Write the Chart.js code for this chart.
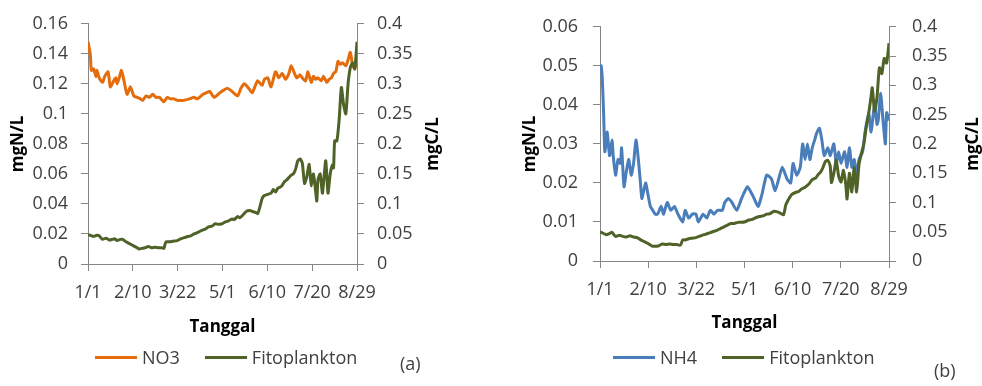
<!DOCTYPE html>
<html>
<head>
<meta charset="utf-8">
<script src="https://cdn.jsdelivr.net/npm/chart.js@4.4.0/dist/chart.umd.min.js"></script>
<style>
  body { margin: 0; width: 982px; height: 386px; overflow: hidden; background: #fff; position: relative; font-family: "Open Sans", sans-serif; }
  .panel { position: absolute; top: 0; width: 491px; height: 386px; }
  .legend { position: absolute; top: 345px; height: 24px; display: flex; align-items: center; font-size: 18px; color: #404040; white-space: nowrap; }
  .legend .item { display: flex; align-items: center; margin-right: 25px; }
  .legend .sw { display: inline-block; width: 42px; height: 3px; margin-right: 5px; }
  .tag { position: absolute; font-size: 18px; line-height: 24px; color: #404040; }
</style>
</head>
<body>
<div class="panel" style="left:0">
  <canvas id="chartA" width="491" height="386"></canvas>
  <div class="legend" id="legendA" style="left:95px"></div>
  <div class="tag" style="left:400px;top:351px">(a)</div>
</div>
<div class="panel" style="left:491px">
  <canvas id="chartB" width="491" height="386"></canvas>
  <div class="legend" id="legendB" style="left:122px"></div>
  <div class="tag" style="left:443px;top:358px">(b)</div>
</div>
<script>
'use strict';

// days since 1/1, tick labels every 40 days
const tickLabels = ['1/1', '2/10', '3/22', '5/1', '6/10', '7/20', '8/29'];

// (a) NO3, mgN/L
const no3Days = [0,2,3,5,7,8,10,13,15,18,20,23,25,26,28,30,32,35,38,41,44,47,49,52,55,58,61,64,68,71,
  74,77,80,82,86,91,95,98,103,106,109,113,118,122,125,129,134,137,140,144,147,150,152,156,158,161,164,168,171,174,
  177,180,182,185,187,190,193,195,197,200,202,204,206,209,211,214,216,218,220,222,224,226,228,231,233,235,237,239,241];
const no3Vals = [0.148,0.140,0.129,0.130,0.125,0.129,0.124,0.121,0.125,0.128,0.118,0.122,0.124,0.120,0.124,0.129,0.123,0.113,0.118,0.112,
  0.111,0.110,0.109,0.112,0.111,0.113,0.111,0.111,0.108,0.111,0.110,0.110,0.109,0.109,0.109,0.110,0.111,0.110,0.113,0.114,
  0.115,0.111,0.114,0.116,0.117,0.115,0.112,0.117,0.120,0.117,0.114,0.119,0.122,0.119,0.123,0.124,0.118,0.128,0.124,0.127,
  0.123,0.127,0.132,0.127,0.124,0.126,0.123,0.122,0.128,0.121,0.125,0.123,0.124,0.122,0.125,0.121,0.123,0.124,0.127,0.128,
  0.135,0.133,0.134,0.132,0.136,0.141,0.133,0.130,0.137];

// (a) Fitoplankton, mgC/L
const fitoADays = [0,3,5,8,10,13,16,19,22,24,26,29,31,34,36,39,42,44,46,48,51,54,57,60,63,66,68,69,70,73,
  76,80,83,85,88,92,95,99,102,105,108,111,114,117,120,123,126,129,131,134,136,139,142,145,148,150,152,154,156,158,
  161,164,166,168,170,172,174,176,178,180,182,184,186,188,190,192,193,194,196,198,199,200,202,204,205,206,208,210,211,213,
  215,217,219,220,221,223,225,227,229,231,233,235,237,239,241];
const fitoAVals = [0.049,0.047,0.046,0.048,0.047,0.041,0.043,0.040,0.041,0.042,0.039,0.041,0.041,0.037,0.035,0.032,0.029,0.027,0.025,0.026,
  0.027,0.029,0.027,0.028,0.027,0.027,0.026,0.033,0.037,0.037,0.038,0.039,0.042,0.043,0.045,0.047,0.050,0.053,0.056,0.058,
  0.062,0.063,0.067,0.066,0.067,0.070,0.072,0.075,0.074,0.079,0.077,0.082,0.088,0.089,0.087,0.086,0.084,0.095,0.109,0.114,
  0.116,0.118,0.124,0.120,0.126,0.128,0.131,0.137,0.140,0.144,0.148,0.150,0.158,0.172,0.175,0.168,0.150,0.134,0.145,0.166,
  0.150,0.130,0.150,0.120,0.105,0.140,0.150,0.118,0.135,0.172,0.118,0.150,0.165,0.160,0.205,0.205,0.240,0.294,0.265,0.250,
  0.300,0.327,0.335,0.325,0.370];

// (b) NH4, mgN/L
const nh4Days = [0,1,2,3,4,5,6,8,10,11,13,15,17,18,19,20,22,24,26,28,30,32,34,35,38,40,42,44,46,48,
  51,53,56,59,62,65,69,71,74,77,80,82,86,89,92,95,98,102,104,107,110,114,118,121,123,127,130,132,135,139,
  143,146,149,152,156,159,161,164,167,169,171,173,175,177,179,181,183,185,187,190,192,195,197,199,201,204,206,208,210,212,
  214,216,219,221,224,226,228,229,231,232,234,236,238,239,241];
const nh4Vals = [0.050,0.050,0.046,0.038,0.028,0.030,0.033,0.027,0.031,0.027,0.022,0.026,0.025,0.029,0.024,0.019,0.023,0.026,0.022,0.025,
  0.031,0.026,0.019,0.016,0.020,0.017,0.014,0.013,0.012,0.012,0.014,0.012,0.015,0.013,0.014,0.012,0.010,0.013,0.011,0.012,
  0.012,0.010,0.012,0.011,0.013,0.012,0.013,0.013,0.015,0.016,0.015,0.013,0.016,0.018,0.019,0.017,0.015,0.014,0.017,0.022,
  0.021,0.018,0.021,0.024,0.021,0.020,0.025,0.022,0.024,0.030,0.026,0.030,0.026,0.029,0.031,0.033,0.034,0.031,0.027,0.029,
  0.027,0.030,0.025,0.028,0.025,0.028,0.024,0.029,0.024,0.026,0.022,0.026,0.028,0.033,0.038,0.033,0.038,0.040,0.035,0.036,
  0.043,0.036,0.030,0.038,0.036];

// (b) Fitoplankton, mgC/L
const fitoBDays = [0,3,5,8,10,13,16,19,22,25,28,31,34,37,40,43,46,49,52,55,58,61,64,67,69,71,74,77,80,84,
  87,90,94,97,100,103,106,109,112,115,118,121,124,127,130,133,136,139,142,145,148,150,153,155,158,160,163,166,168,171,
  174,177,180,182,184,186,188,190,192,193,195,197,199,201,203,205,206,208,210,212,214,216,218,220,222,224,226,227,229,231,
  233,235,237,239,241];
const fitoBVals = [0.050,0.047,0.045,0.047,0.049,0.042,0.044,0.042,0.041,0.043,0.041,0.040,0.036,0.033,0.030,0.026,0.025,0.026,0.029,0.028,
  0.029,0.028,0.028,0.027,0.036,0.036,0.038,0.039,0.040,0.043,0.045,0.047,0.050,0.052,0.055,0.058,0.061,0.064,0.064,0.066,
  0.066,0.067,0.070,0.071,0.074,0.076,0.077,0.080,0.081,0.085,0.084,0.082,0.079,0.096,0.108,0.114,0.117,0.119,0.123,0.126,
  0.131,0.139,0.142,0.148,0.152,0.160,0.170,0.172,0.162,0.134,0.150,0.172,0.145,0.135,0.155,0.130,0.106,0.150,0.118,0.160,
  0.118,0.165,0.184,0.200,0.228,0.251,0.280,0.296,0.256,0.280,0.330,0.320,0.346,0.338,0.372];

const AXIS_GREY = '#868686';
const TEXT_GREY = '#404040';
const FONT = '"Open Sans", sans-serif';

function pairs(days, vals) {
    return days.map((d, i) => ({ x: d, y: vals[i] }));
}

function fmt(v) {
    return String(Number(v.toFixed(4)));
}

// Excel draws the secondary title reading bottom-to-top, Chart.js does the opposite
const rightTitle = {
    id: 'rightTitle',
    afterDraw(chart, args, opts) {
        const s = chart.scales.y1;
        const { ctx } = chart;
        ctx.save();
        ctx.translate(opts.x, (s.top + s.bottom) / 2);
        ctx.rotate(-Math.PI / 2);
        ctx.font = 'bold 17px ' + FONT;
        ctx.fillStyle = '#000';
        ctx.textAlign = 'center';
        ctx.textBaseline = 'middle';
        ctx.fillText(opts.text, 0, 0);
        ctx.restore();
    }
};

function makeChart(id, datasets, o) {
    const fixW = w => scale => { scale.width = w; };
    return new Chart(document.getElementById(id), {
        type: 'line',
        data: { datasets },
        plugins: [rightTitle],
        options: {
            responsive: false,
            animation: false,
            layout: { padding: { left: 0, right: 0, top: 23, bottom: o.padBottom } },
            elements: { point: { radius: 0 }, line: { borderWidth: 3, tension: 0.2 } },
            plugins: {
                legend: { display: false },
                tooltip: { enabled: false },
                rightTitle: { text: 'mgC/L', x: o.rightTitleX }
            },
            scales: {
                x: {
                    type: 'linear',
                    min: 0,
                    max: 241,
                    afterFit: scale => { scale.height = o.xHeight; },
                    border: { color: AXIS_GREY },
                    grid: { drawOnChartArea: false, color: AXIS_GREY, tickLength: 7 },
                    ticks: {
                        stepSize: 40,
                        includeBounds: false,
                        maxRotation: 0,
                        padding: 11,
                        color: TEXT_GREY,
                        font: { family: FONT, size: 18 },
                        callback: (v, i) => tickLabels[i]
                    },
                    title: {
                        display: true,
                        text: 'Tanggal',
                        color: '#000',
                        padding: { top: 0, bottom: 4 },
                        font: { family: FONT, size: 17, weight: 'bold' }
                    }
                },
                y: {
                    position: 'left',
                    min: 0,
                    max: o.yMax,
                    afterFit: fixW(o.yWidth),
                    border: { color: AXIS_GREY },
                    grid: { drawOnChartArea: false, color: AXIS_GREY, tickLength: 7 },
                    ticks: {
                        stepSize: o.yStep,
                        padding: o.yPad,
                        color: TEXT_GREY,
                        font: { family: FONT, size: 18 },
                        callback: fmt
                    },
                    title: {
                        display: true,
                        text: 'mgN/L',
                        color: '#000',
                        padding: { top: o.yTitlePad, bottom: 0 },
                        font: { family: FONT, size: 17, weight: 'bold' }
                    }
                },
                y1: {
                    position: 'right',
                    min: 0,
                    max: 0.4,
                    afterFit: fixW(o.y1Width),
                    border: { color: AXIS_GREY },
                    grid: { drawOnChartArea: false, color: AXIS_GREY, tickLength: 7 },
                    ticks: {
                        stepSize: 0.05,
                        padding: o.y1Pad,
                        color: TEXT_GREY,
                        font: { family: FONT, size: 18 },
                        callback: fmt
                    }
                }
            }
        }
    });
}

function buildLegend(chart, el) {
    chart.data.datasets.forEach(ds => {
        const item = document.createElement('span');
        item.className = 'item';
        const sw = document.createElement('span');
        sw.className = 'sw';
        sw.style.background = ds.borderColor;
        item.append(sw, document.createTextNode(ds.label));
        el.append(item);
    });
}

const chartA = makeChart('chartA', [
    { label: 'NO3', data: pairs(no3Days, no3Vals), borderColor: '#E46C0A', yAxisID: 'y', order: 1 },
    { label: 'Fitoplankton', data: pairs(fitoADays, fitoAVals), borderColor: '#4F6228', yAxisID: 'y1', order: 0 }
], { yMax: 0.16, yStep: 0.02, yWidth: 88, yPad: 13, yTitlePad: 8, y1Width: 134, y1Pad: 13,
     rightTitleX: 433, xHeight: 77, padBottom: 45 });

const chartB = makeChart('chartB', [
    { label: 'NH4', data: pairs(nh4Days, nh4Vals), borderColor: '#4A7EBB', yAxisID: 'y', order: 1 },
    { label: 'Fitoplankton', data: pairs(fitoBDays, fitoBVals), borderColor: '#4F6228', yAxisID: 'y1', order: 0 }
], { yMax: 0.06, yStep: 0.01, yWidth: 109, yPad: 15, yTitlePad: 29, y1Width: 93, y1Pad: 16,
     rightTitleX: 482, xHeight: 76, padBottom: 49 });

buildLegend(chartA, document.getElementById('legendA'));
buildLegend(chartB, document.getElementById('legendB'));
</script>
</body>
</html>
